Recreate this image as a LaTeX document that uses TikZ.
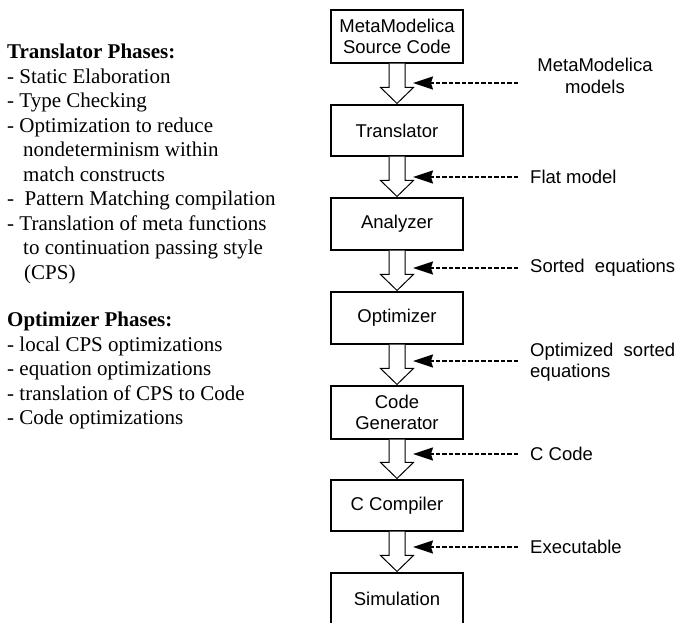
\documentclass[tikz,border=0pt]{standalone}
\usepackage{fontspec}
\setmainfont{Liberation Serif}
\newfontfamily\arialf{Liberation Sans}
\usetikzlibrary{arrows.meta,calc}
\tikzset{
  stagebox/.style={draw, line width=1.1pt, minimum width=132pt, inner sep=0pt, align=center,
    font=\arialf\fontsize{18.5}{21.5}\selectfont},
  blockarr/.style={draw, fill=white, line width=1pt, line join=miter},
  dasharr/.style={line width=1.6pt, dash pattern=on 4.5pt off 2pt, -{Stealth[length=20pt,width=13pt,inset=2pt]}},
  lbl/.style={font=\arialf\fontsize{18.5}{21.5}\selectfont, inner sep=0pt, align=left},
  phases/.style={font=\fontsize{21}{24.5}\selectfont, inner sep=0pt, align=left}
}
\begin{document}
\begin{tikzpicture}[x=1pt,y=-1pt]
\useasboundingbox (0,0) rectangle (678,623);
% boxes
\node[stagebox, minimum height=53pt] (src) at (397,36.5) {MetaModelica\\Source Code};
\node[stagebox, minimum height=51pt] (tr)  at (397,130.5) {Translator};
\node[stagebox, minimum height=52pt] (an)  at (397,224) {Analyzer};
\node[stagebox, minimum height=52pt] (op)  at (397,318) {Optimizer};
\node[stagebox, minimum height=53pt] (cg)  at (397,412.5) {Code\\Generator};
\node[stagebox, minimum height=51pt] (cc)  at (397,505.5) {C Compiler};
\node[stagebox, minimum height=52pt, text depth=0pt] (sim) at (397,599) {Simulation};
% block arrows
\foreach \a/\b in {src/tr,tr/an,an/op,op/cg,cg/cc,cc/sim}{
  \path[blockarr] ($(\a.south)+(-8,0)$) -- ($(\b.north)+(-8,-17)$) -- ($(\b.north)+(-16.5,-17)$)
     -- ($(\b.north)+(0,-1)$) -- ($(\b.north)+(16.5,-17)$) -- ($(\b.north)+(8,-17)$) -- ($(\a.south)+(8,0)$);
}
% labels
\node[lbl, align=center] (l1) at (595,76) {MetaModelica\\models};
\node[lbl, anchor=west] (l2) at (530,177) {Flat model};
\node[lbl, anchor=west] (l3) at (530,268) {Sorted~~equations};
\node[lbl, anchor=west] (l4) at (530,362) {Optimized~~sorted\\equations};
\node[lbl, anchor=west] (l5) at (530,454) {C Code};
\node[lbl, anchor=west] (l6) at (530,547) {Executable};
% dashed arrows
\foreach \i/\y in {1/83,2/177,3/268,4/361,5/454,6/547}{
  \coordinate (ds\i) at (518,\y);
  \coordinate (dt\i) at (413,\y);
  \draw[dasharr] (ds\i) -- (dt\i);
}
% left text
\node[phases, anchor=north west] (tp) at (7,44) {\textbf{Translator Phases:}\\
- Static Elaboration\\
- Type Checking\\
- Optimization to reduce\\
\hspace*{16pt}nondeterminism within\\
\hspace*{16pt}match constructs\\
-\ \ Pattern Matching compilation\\
- Translation of meta functions\\
\hspace*{16pt}to continuation passing style\\
\hspace*{17pt}(CPS)};
\node[phases, anchor=north west] (opp) at (7,312) {\textbf{Optimizer Phases:}\\
- local CPS optimizations\\
- equation optimizations\\
- translation of CPS to Code\\
- Code optimizations};
\end{tikzpicture}
\end{document}
